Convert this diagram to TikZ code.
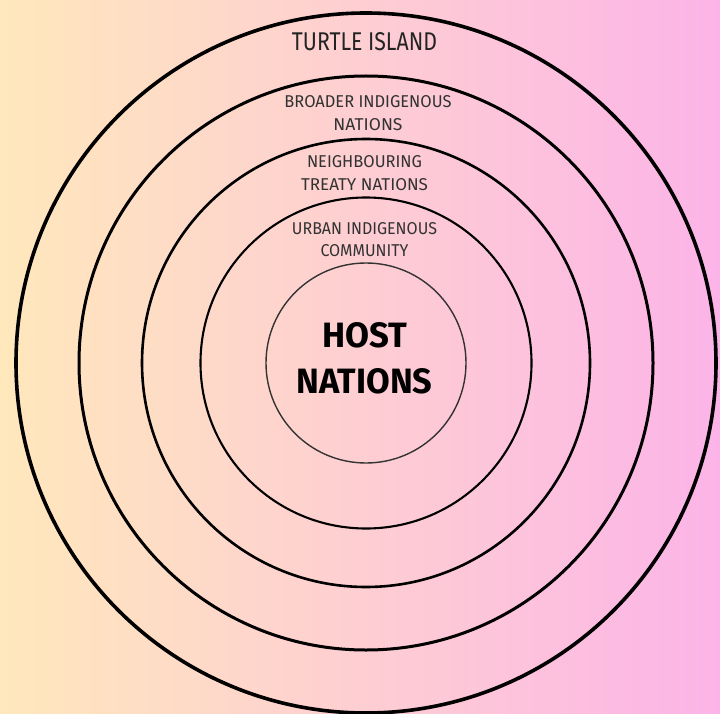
\documentclass[tikz,border=0pt]{standalone}
\usepackage{fontspec}
\setmainfont{Fira Sans}
\usepackage{graphicx}
\definecolor{bgleft}{RGB}{255,232,188}
\definecolor{bgright}{RGB}{252,180,232}
\definecolor{labelgray}{RGB}{50,50,50}
\definecolor{titlegray}{RGB}{35,35,35}
\newcommand{\fitl}[3]{\resizebox{#1pt}{#2pt}{#3}}
\begin{document}
\begin{tikzpicture}[x=1pt,y=-1pt,
  ring/.style={circle,draw=black,inner sep=0pt,fill=none},
  lbl/.style={inner sep=0pt,anchor=north,align=center,text=labelgray,
    font=\fontsize{12}{23}\selectfont},
  ]
\useasboundingbox (0,0) rectangle (720,714);
\shade[left color=bgleft,right color=bgright] (0,0) rectangle (720,714);
\coordinate (c) at (366,363);
\node[ring,line width=3.6pt,minimum size=700pt] (turtle) at (c) {};
\node[ring,line width=3.0pt,minimum size=574pt] (broader) at (c) {};
\node[ring,line width=2.6pt,minimum size=448pt] (treaty) at (c) {};
\node[ring,line width=2.1pt,minimum size=331pt] (urban) at (c) {};
\node[ring,line width=1.4pt,minimum size=200pt,draw=black!80] (host) at (c) {};
\node[lbl,text=titlegray] (tl) at (364.5,32) {\fitl{145}{18}{TURTLE ISLAND}};
\node[lbl] (bl) at (368,95) {\fitl{167}{12}{BROADER INDIGENOUS}\\\fitl{69}{12}{NATIONS}};
\node[lbl] (nl) at (364.5,155) {\fitl{115}{12}{NEIGHBOURING}\\\fitl{127}{12}{TREATY NATIONS}};
\node[lbl,font=\fontsize{12}{22}\selectfont] (ul) at (364.5,222) {\fitl{145}{12}{URBAN INDIGENOUS}\\\fitl{88}{12}{COMMUNITY}};
\node[lbl,text=black,font=\fontsize{25}{46}\selectfont\bfseries] (hl) at (364.5,322) {\fitl{85}{25}{\bfseries HOST}\\\fitl{136}{25}{\bfseries NATIONS}};
\end{tikzpicture}
\end{document}
